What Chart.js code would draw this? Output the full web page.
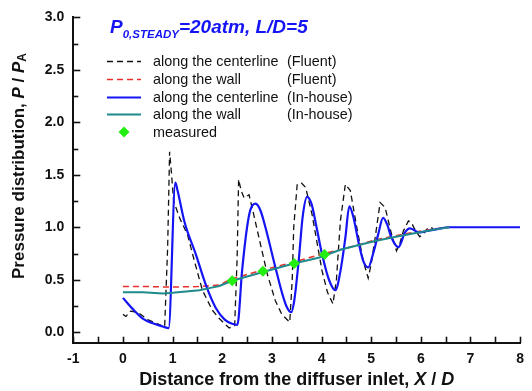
<!DOCTYPE html>
<html><head><meta charset="utf-8">
<script src="https://cdn.jsdelivr.net/npm/chart.js@4/dist/chart.umd.min.js"></script>
<style>html,body{margin:0;padding:0;background:#fff}#wrap{width:532px;height:391px;position:relative}</style>
</head><body><div id="wrap"><canvas id="c"></canvas></div>
<script>
// ---- data ----
const xTicks = [-1,0,1,2,3,4,5,6,7,8];
const yTicks = [0,0.5,1,1.5,2,2.5,3];

const fluentCenterX = [0,0.06,0.15,0.3,0.5,0.7,0.84,0.9,0.94,0.98,1.02,1.15,1.3,1.45,1.6,1.8,1.94,2.14,2.25,2.3,2.33,2.38,2.44,2.54,2.62,2.74,2.91,3.07,3.2,3.36,3.41,3.44,3.51,3.6,3.68,3.81,4.01,4.12,4.23,4.3,4.38,4.48,4.58,4.71,4.84,4.94,5.0,5.08,5.18,5.28,5.41,5.51,5.58,5.65,5.75,5.81,5.9,5.98,6.06,6.15,6.25];
const fluentCenterY = [0.17,0.15,0.2,0.19,0.12,0.08,0.05,0.8,1.72,1.5,1.25,1.08,0.93,0.66,0.40,0.21,0.13,0.04,0.06,0.7,1.457,1.35,1.28,1.31,1.15,0.90,0.55,0.30,0.17,0.095,0.5,1.0,1.41,1.42,1.38,1.12,0.586,0.38,0.27,0.5,1.06,1.41,1.35,1.0,0.68,0.516,0.65,0.90,1.235,1.19,0.935,0.776,0.85,0.966,1.06,1.045,0.96,0.91,0.94,1.0,0.99];

const fluentWallX = [0,0.5,1.0,1.5,1.94,2.2,2.8,3.45,4.05,4.5,5.08,5.5,5.95,6.3,6.58];
const fluentWallY = [0.435,0.435,0.43,0.435,0.45,0.51,0.59,0.67,0.75,0.80,0.88,0.92,0.96,0.985,1.0];

const houseCenterX = [0,0.2,0.4,0.6,0.8,0.92,1.056,1.1,1.24,1.47,1.67,1.87,2.05,2.2,2.305,2.40,2.50,2.57,2.67,2.77,2.87,3.07,3.21,3.3,3.39,3.45,3.54,3.62,3.71,3.8,3.9,4.01,4.15,4.28,4.38,4.48,4.56,4.64,4.74,4.84,4.94,5.04,5.14,5.24,5.32,5.41,5.55,5.68,5.78,5.88,5.95,6.08,6.3,6.58,7.0,8.0];
const houseCenterY = [0.327,0.22,0.13,0.085,0.055,0.038,1.425,1.35,1.05,0.74,0.45,0.23,0.12,0.08,0.07,0.586,1.0,1.17,1.225,1.16,1.0,0.62,0.365,0.24,0.19,0.3,0.68,1.1,1.29,1.22,1.0,0.745,0.5,0.4,0.58,0.90,1.20,1.1,0.87,0.68,0.617,0.75,0.93,1.09,1.03,0.90,0.81,0.95,0.99,0.97,0.95,0.96,0.98,1.0,1.0,1.0];

const houseWallX = [0,0.4,0.8,1.0,1.54,1.74,1.94,2.2,2.84,3.44,3.94,4.41,5.08,5.5,5.95,6.3,6.58];
const houseWallY = [0.38,0.38,0.37,0.375,0.40,0.42,0.44,0.49,0.576,0.655,0.71,0.79,0.87,0.91,0.95,0.98,1.0];

const measuredX = [2.2,2.82,3.45,4.06];
const measuredY = [0.49,0.58,0.655,0.74];

const legendLabels = ["along the centerline","along the wall","along the centerline","along the wall","measured"];
const legendTags = ["(Fluent)","(Fluent)","(In-house)","(In-house)",""];

// ---- helpers ----
const pts = (xs, ys) => xs.map((x,i)=>({x, y: ys[i]}));
const BLUE = '#1414f5', TEAL = '#1f8a8c', RED = '#e8302a', GREEN = '#22ee11';
const FAM = '"Liberation Sans", Arial, sans-serif';

const datasets = [
  {label:'c-fluent', data: pts(fluentCenterX, fluentCenterY), showLine:true, borderColor:'#111', borderWidth:1.3, borderDash:[6,4], pointRadius:0, order:4, tension:0},
  {label:'w-fluent', data: pts(fluentWallX, fluentWallY), showLine:true, borderColor:RED, borderWidth:1.5, borderDash:[6,4], pointRadius:0, order:3},
  {label:'c-house', data: pts(houseCenterX, houseCenterY), showLine:true, borderColor:BLUE, borderWidth:2.2, pointRadius:0, order:2, cubicInterpolationMode:'monotone'},
  {label:'w-house', data: pts(houseWallX, houseWallY), showLine:true, borderColor:TEAL, borderWidth:2, pointRadius:0, order:1},
  {label:'measured', data: pts(measuredX, measuredY), showLine:false, pointStyle:'rectRot', pointRadius:5.5, backgroundColor:GREEN, borderColor:GREEN, borderWidth:0, order:0}
];

function drawRuns(ctx, runs, x, y, align) {
  let total = 0;
  runs.forEach(r => { ctx.font = r.font; total += ctx.measureText(r.t).width; });
  let cx = align === 'center' ? x - total/2 : x;
  runs.forEach(r => { ctx.font = r.font; ctx.fillText(r.t, cx, y + (r.dy||0)); cx += ctx.measureText(r.t).width; });
}

const decor = {
  id: 'decor',
  afterDraw(chart) {
    const ctx = chart.ctx, xs = chart.scales.x, ys = chart.scales.y;
    const L = xs.left, B = ys.bottom;
    ctx.save();
    // inward ticks
    ctx.strokeStyle = '#111'; ctx.lineWidth = 1.6;
    for (let v = -1; v <= 8.001; v += 0.5) {
      const px = Math.round(xs.getPixelForValue(v)) + 0.5;
      ctx.beginPath(); ctx.moveTo(px, B); ctx.lineTo(px, B - 6); ctx.stroke();
    }
    for (let v = 0; v <= 3.001; v += 0.25) {
      const py = Math.round(ys.getPixelForValue(v)) + 0.5;
      const major = Math.abs(v*2 - Math.round(v*2)) < 1e-6;
      ctx.beginPath(); ctx.moveTo(L, py); ctx.lineTo(L + (major ? 7 : 5), py); ctx.stroke();
    }
    ctx.fillStyle = BLUE; ctx.textBaseline = 'alphabetic'; ctx.textAlign = 'left';
    // title
    drawRuns(ctx, [
      {t:'P', font:'italic bold 19px ' + FAM},
      {t:'0,STEADY', font:'italic bold 11.5px ' + FAM, dy:5},
      {t:'=20atm, L/D=5', font:'italic bold 19px ' + FAM}
    ], 110, 33, 'left');
    // legend
    const rows = [61, 79, 97, 114, 132];
    ctx.fillStyle = '#111';
    for (let i = 0; i < 5; i++) {
      const ds = chart.data.datasets[i], y = rows[i];
      if (i < 4) {
        ctx.save();
        ctx.strokeStyle = ds.borderColor; ctx.lineWidth = ds.borderWidth;
        ctx.setLineDash(ds.borderDash || []);
        ctx.beginPath(); ctx.moveTo(107, y + 0.5); ctx.lineTo(141, y + 0.5); ctx.stroke();
        ctx.restore();
      } else {
        ctx.save(); ctx.fillStyle = GREEN;
        ctx.beginPath(); ctx.moveTo(124, y-5.5); ctx.lineTo(129.5, y); ctx.lineTo(124, y+5.5); ctx.lineTo(118.5, y); ctx.closePath(); ctx.fill();
        ctx.restore();
      }
      ctx.font = '14.4px ' + FAM;
      ctx.textBaseline = 'middle';
      ctx.fillText(legendLabels[i], 153, y + 1);
      if (legendTags[i]) ctx.fillText(legendTags[i], 287, y + 1);
    }
    // axis titles
    ctx.textBaseline = 'middle';
    const bf = 'bold 18px ' + FAM;
    const bif = 'italic bold 18px ' + FAM;
    drawRuns(ctx, [
      {t:'Distance from the diffuser inlet, ', font:bf},
      {t:'X', font:bif}, {t:' / ', font:bf}, {t:'D', font:bif}
    ], (xs.left + xs.right)/2, 380, 'center');
    ctx.save();
    ctx.translate(19, 166); ctx.rotate(-Math.PI/2);
    const yf = 'bold 17px ' + FAM;
    const yif = 'italic bold 17px ' + FAM;
    drawRuns(ctx, [
      {t:'Pressure distribution, ', font:yf},
      {t:'P', font:yif}, {t:' / ', font:yf}, {t:'P', font:yif},
      {t:'A', font:'bold 12px ' + FAM, dy:4}
    ], 0, 0, 'center');
    ctx.restore();
    ctx.restore();
  }
};

new Chart(document.getElementById('c'), {
  type: 'scatter',
  data: { datasets },
  options: {
    responsive: true, maintainAspectRatio: false, animation: false,
    layout: { padding: { left: 0, top: 15, right: 8.7, bottom: 0 } },
    plugins: { legend: { display: false }, tooltip: { enabled: false } },
    elements: { line: { borderCapStyle: 'butt' } },
    scales: {
      x: {
        type: 'linear', min: -1, max: 8,
        afterBuildTicks: s => { s.ticks = xTicks.map(v => ({value: v})); },
        afterFit: s => { s.height = 48.3; },
        ticks: { color: '#111', font: { family: FAM, size: 14, weight: 'bold' }, padding: 8, maxRotation: 0, callback: v => String(v) },
        grid: { drawOnChartArea: false, drawTicks: false },
        border: { display: true, color: '#111', width: 2 }
      },
      y: {
        type: 'linear', min: -0.1, max: 3.0,
        afterBuildTicks: s => { s.ticks = yTicks.map(v => ({value: v})); },
        afterFit: s => { s.width = 73.3; },
        ticks: { color: '#111', font: { family: FAM, size: 14, weight: 'bold' }, padding: 9, callback: v => Number(v).toFixed(1) },
        grid: { drawOnChartArea: false, drawTicks: false },
        border: { display: true, color: '#111', width: 2 }
      }
    }
  },
  plugins: [decor]
});
</script></body></html>
